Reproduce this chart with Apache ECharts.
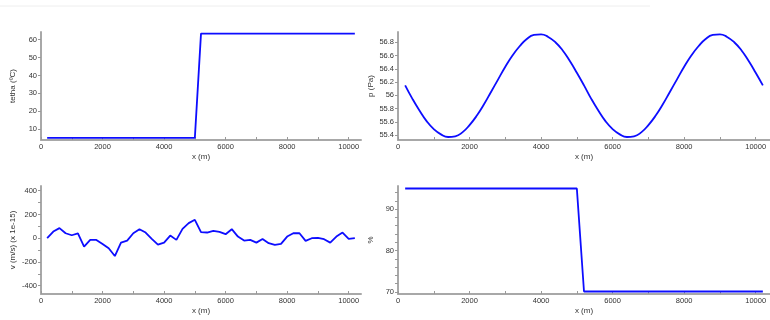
<!DOCTYPE html>
<html>
<head>
<meta charset="utf-8">
<script src="https://cdn.jsdelivr.net/npm/echarts@6/dist/echarts.min.js"></script>
<style>
  html, body { margin: 0; background: #fff; }
  #chart { width: 770px; height: 320px; }
</style>
</head>
<body>
<div id="chart"></div>
<script>
// sample positions along the pipe (m)
const xPos = [200, 400, 600, 800, 1000, 1200, 1400, 1600, 1800, 2000,
  2200, 2400, 2600, 2800, 3000, 3200, 3400, 3600, 3800, 4000,
  4200, 4400, 4600, 4800, 5000, 5200, 5400, 5600, 5800, 6000,
  6200, 6400, 6600, 6800, 7000, 7200, 7400, 7600, 7800, 8000,
  8200, 8400, 8600, 8800, 9000, 9200, 9400, 9600, 9800, 10000, 10200];

// step profiles only need their corners
const xStep = [200, 5000, 5200, 10200];
const tetha = [5.2, 5.2, 63.4, 63.4];
const humidity = [95, 95, 70.1, 70.1];

const pressure = [56.15, 55.95, 55.77, 55.61, 55.49, 55.41, 55.37, 55.38, 55.44, 55.55,
  55.69, 55.86, 56.05, 56.24, 56.43, 56.60, 56.74, 56.85, 56.91, 56.92,
  56.88, 56.80, 56.68, 56.52, 56.34, 56.15, 55.95, 55.77, 55.61, 55.49,
  55.41, 55.37, 55.38, 55.44, 55.55, 55.69, 55.86, 56.05, 56.24, 56.43,
  56.60, 56.74, 56.85, 56.91, 56.92, 56.88, 56.80, 56.68, 56.52, 56.34, 56.15];

const velocity = [0, 56, 85, 42, 25, 40, -70, -14, -14, -48,
  -85, -150, -37, -20, 42, 76, 48, -5, -54, -37,
  22, -14, 79, 127, 155, 51, 48, 62, 54, 34,
  76, 14, -20, -14, -37, -6, -42, -56, -48, 14,
  42, 42, -22, 0, 3, -8, -37, 14, 48, -6, 0];

const xLabels = [0, 2000, 4000, 6000, 8000, 10000];
const xTicks = [0, 1000, 2000, 3000, 4000, 5000, 6000, 7000, 8000, 9000, 10000];
const tethaLabels = [10, 20, 30, 40, 50, 60];
const pressureLabels = [55.4, 55.6, 55.8, 56, 56.2, 56.4, 56.6, 56.8];
const velocityLabels = [-400, -200, 0, 200, 400];
const velocityTicks = [-400, -300, -200, -100, 0, 100, 200, 300, 400];
const humidityLabels = [70, 80, 90];
const humidityTicks = [70, 72, 74, 76, 78, 80, 82, 84, 86, 88, 90, 92, 94];

const FONT = 'Liberation Sans';
const BLUE = '#0d0dff';

const plain = v => String(v);

function xAxis(grid) {
  return {
    type: 'value', gridIndex: grid, min: 0, max: 10400,
    name: 'x (m)', nameLocation: 'middle', nameGap: 13,
    nameTextStyle: { fontFamily: FONT, fontSize: 8, color: '#333' },
    axisLine: { onZero: false, lineStyle: { color: '#a8a8a8', width: 2 } },
    axisTick: { inside: true, length: 3, customValues: xTicks, lineStyle: { color: '#999' } },
    axisLabel: { customValues: xLabels, formatter: plain, margin: 3, fontFamily: FONT, fontSize: 7.5, color: '#333' },
    splitLine: { show: false }
  };
}

function yAxis(grid, name, min, max, labels, ticks, gap) {
  return {
    type: 'value', gridIndex: grid, min: min, max: max,
    name: name, nameLocation: 'middle', nameGap: gap,
    nameTextStyle: { fontFamily: FONT, fontSize: 8, color: '#333' },
    axisLine: { show: true, onZero: false, lineStyle: { color: '#a8a8a8', width: 2 } },
    axisTick: { show: true, length: 3, customValues: ticks, lineStyle: { color: '#999' } },
    axisLabel: { customValues: labels, formatter: plain, margin: 4, fontFamily: FONT, fontSize: 7.5, color: '#333' },
    splitLine: { show: false }
  };
}

function lineSeries(idx, xs, ys, smooth) {
  return {
    type: 'line', xAxisIndex: idx, yAxisIndex: idx,
    data: xs.map((x, i) => [x, ys[i]]),
    showSymbol: false, animation: false, smooth: smooth || false,
    lineStyle: { color: BLUE, width: 1.8 }
  };
}

const chart = echarts.init(document.getElementById('chart'));
chart.setOption({
  backgroundColor: '#fff',
  animation: false,
  graphic: [{
    type: 'line', shape: { x1: 0, y1: 6, x2: 650, y2: 6 },
    style: { stroke: '#eeeeee', lineWidth: 1 }
  }],
  grid: [
    { left: 41, top: 32, width: 320, height: 108 },
    { left: 398, top: 32, width: 372, height: 108 },
    { left: 41, top: 186, width: 320, height: 108 },
    { left: 398, top: 186, width: 372, height: 108 }
  ],
  xAxis: [xAxis(0), xAxis(1), xAxis(2), xAxis(3)],
  yAxis: [
    yAxis(0, 'tetha (ºC)', 4, 64.3, tethaLabels, tethaLabels, 24),
    yAxis(1, 'p (Pa)', 55.325, 56.955, pressureLabels, pressureLabels, 23),
    yAxis(2, 'v (m/s) (x 1e-15)', -470, 440, velocityLabels, velocityTicks, 24),
    yAxis(3, '%', 69.5, 95.6, humidityLabels, humidityTicks, 23)
  ],
  series: [
    lineSeries(0, xStep, tetha),
    lineSeries(1, xPos, pressure, 0.5),
    lineSeries(2, xPos, velocity),
    lineSeries(3, xStep, humidity)
  ]
});
</script>
</body>
</html>
